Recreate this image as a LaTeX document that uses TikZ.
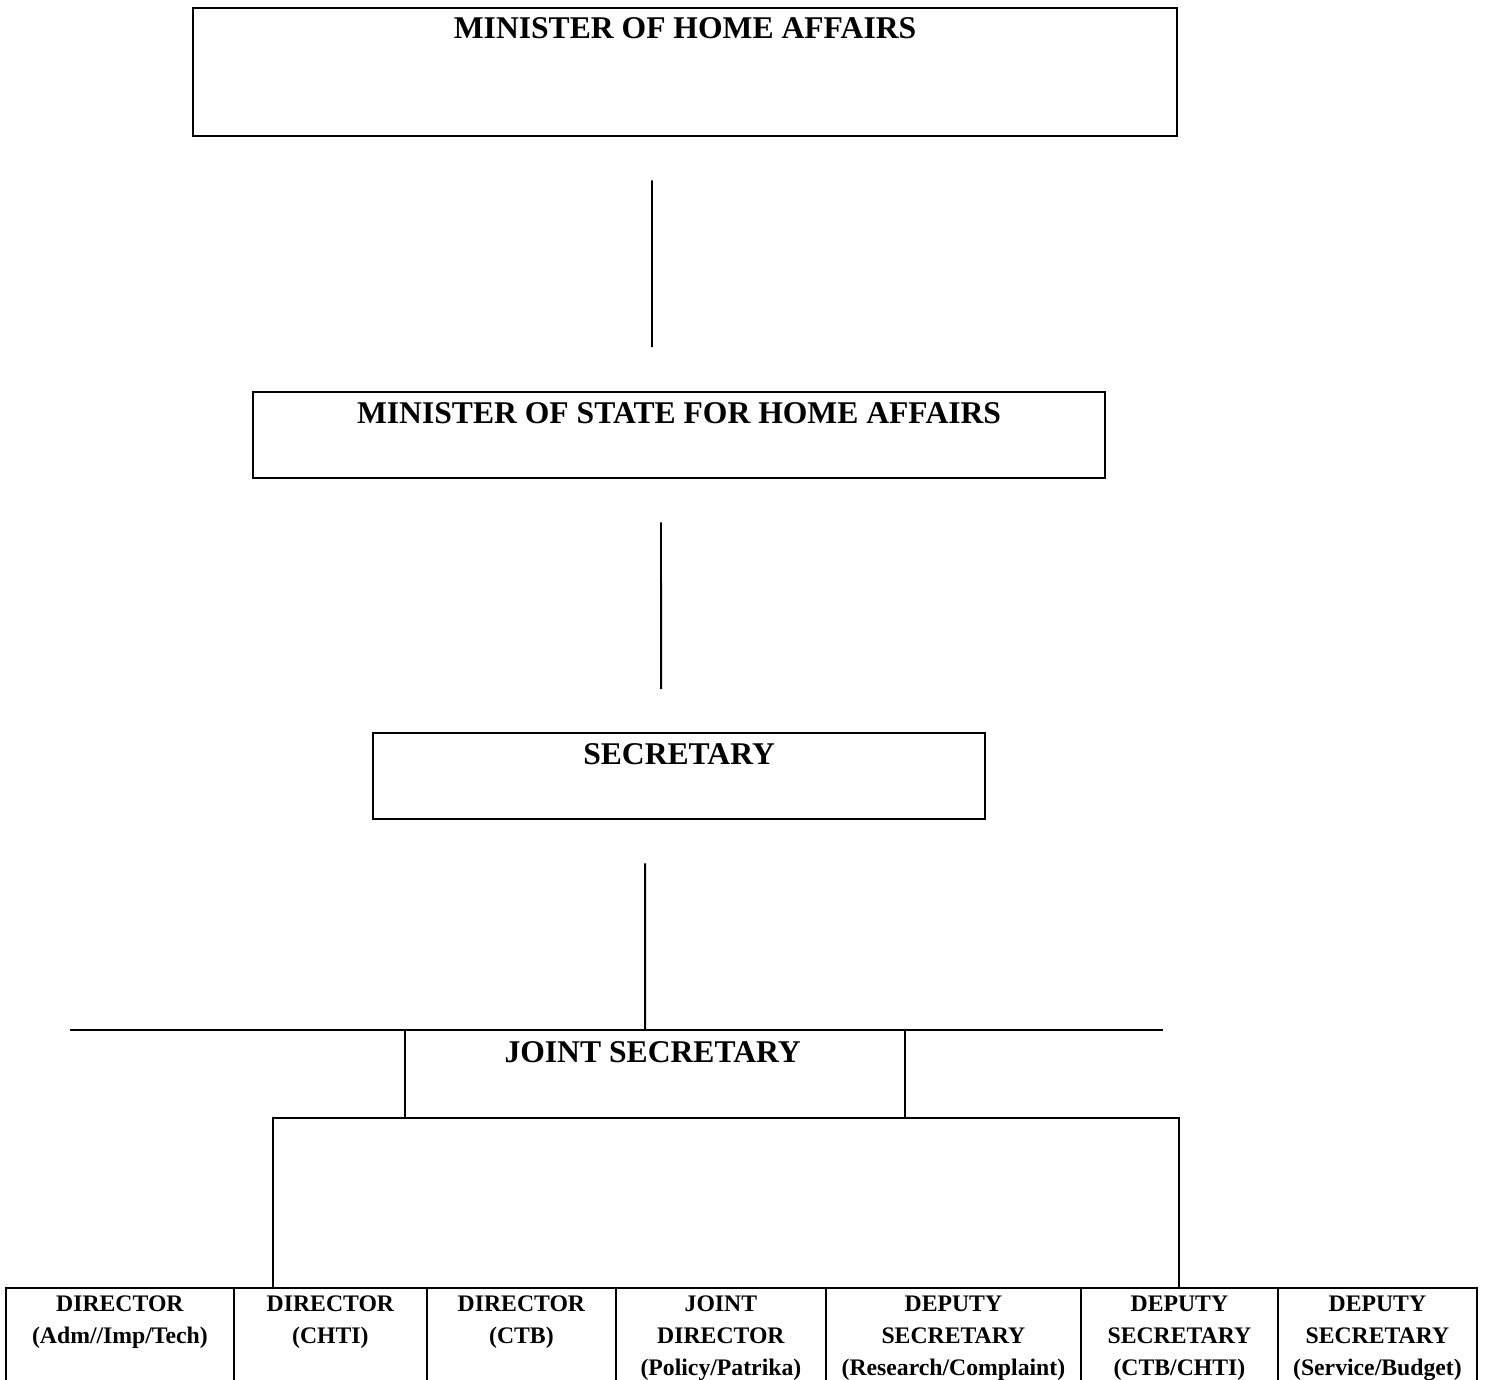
\documentclass[tikz,border=0pt]{standalone}
\usepackage{fontspec}
\setmainfont{Liberation Serif}
\usetikzlibrary{positioning,calc}

\tikzset{
  postbox/.style={draw,line width=1.3pt,minimum height=1.72cm,anchor=north west,inner sep=0},
  posttitle/.style={font=\fontsize{18}{22}\selectfont\bfseries,inner sep=0},
  cellbox/.style={draw,minimum height=2.4cm,anchor=north west,inner sep=0},
  celltext/.style={font=\fontsize{13.5}{18.1}\selectfont\bfseries,align=center,inner sep=0},
}

\begin{document}
\begin{tikzpicture}[x=0.02cm,y=-0.02cm,line width=1.05pt]
  \useasboundingbox (0,0) rectangle (1486,1379);
  \clip (0,0) rectangle (1486,1379);
  % posts
  \node[postbox,minimum width=19.68cm,minimum height=2.56cm] (bHome) at (192,7) {};
  \node[posttitle,below=0.2cm of bHome.north] (tHome) {MINISTER OF HOME AFFAIRS};
  \node[postbox,minimum width=17.04cm] (bState) at (252,391) {};
  \node[posttitle,below=0.21cm of bState.north] (tState) {MINISTER OF STATE FOR HOME AFFAIRS};
  \node[postbox,minimum width=12.24cm] (bSecretary) at (372,732) {};
  \node[posttitle,below=0.21cm of bSecretary.north] (tSecretary) {SECRETARY};
  \node[postbox,draw=none,minimum width=9.96cm] (bJoint) at (405,1030) {};
  \node[posttitle,below=0.21cm of bJoint.north,xshift=-0.05cm] (tJoint) {JOINT SECRETARY};
  % links between posts
  \draw ($(bHome.south)+(-33,43)$) -- ($(bState.north)+(-27,-44)$);
  \draw ($(bState.south)+(-18,43)$) -- ($(bSecretary.north)+(-18,-43)$);
  \draw ($(bSecretary.south)+(-34,43)$) -- ($(bJoint.north)+(-10,0)$);
  \draw ($(bJoint.north west)+(-335,0)$) -- ($(bJoint.north east)+(258,0)$);
  \draw (bJoint.north west) -- (bJoint.south west) (bJoint.north east) -- (bJoint.south east);
  % bottom row
  \foreach \x/\w/\name/\txt in {5/4.56/cAdm/{DIRECTOR\\(Adm//Imp/Tech)},
      233/3.86/cChti/{DIRECTOR\\(CHTI)},
      426/3.78/cCtb/{DIRECTOR\\(CTB)},
      615/4.2/cPolicy/{JOINT\\DIRECTOR\\(Policy/Patrika)},
      825/5.1/cResearch/{DEPUTY\\SECRETARY\\(Research/Complaint)},
      1080/3.94/cCtbChti/{DEPUTY\\SECRETARY\\(CTB/CHTI)},
      1277/3.98/cBudget/{DEPUTY\\SECRETARY\\(Service/Budget)}}{
    \node[cellbox,minimum width=\w cm] (\name) at (\x,1287) {};
    \node[celltext,below=0.16cm of \name.north] (t\name) {\txt};
  }
  \draw ($(cChti.north west)+(40,0)$) |- (bJoint.south) -| ($(cCtbChti.north west)+(99,0)$);
\end{tikzpicture}
\end{document}
